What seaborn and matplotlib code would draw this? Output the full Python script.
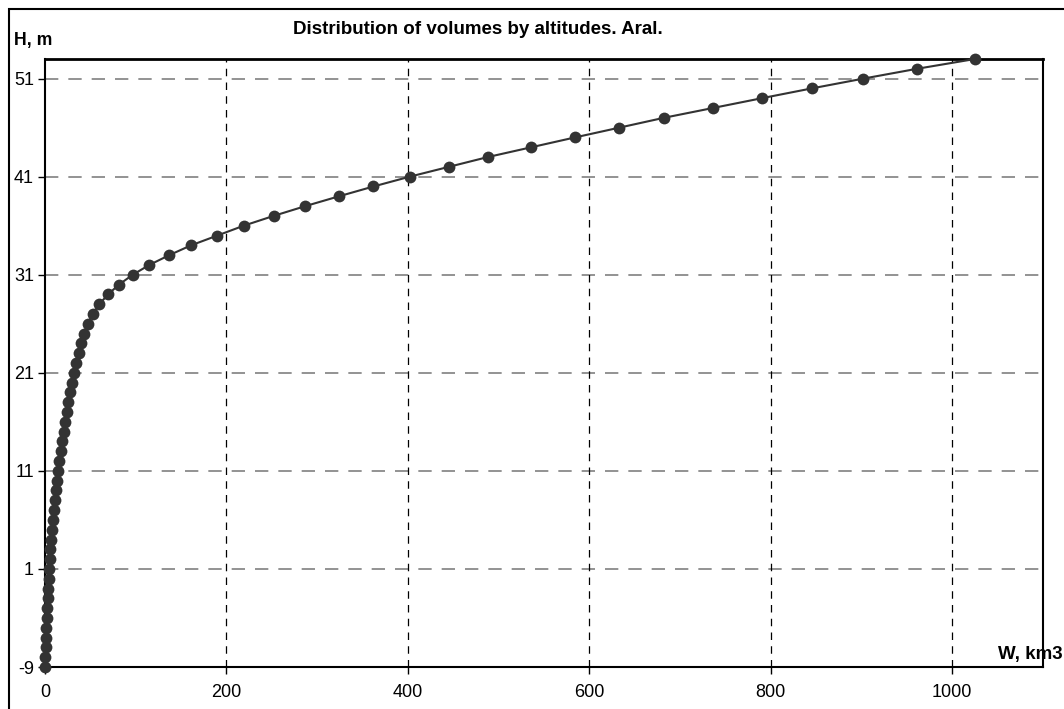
import matplotlib
matplotlib.use("Agg")
import matplotlib.pyplot as plt
import seaborn as sns
import pandas as pd
from matplotlib.patches import Rectangle

# altitudes, m
heights = list(range(-9, 54))
# volumes, km3
volumes = [0, 0.3, 0.6, 1.0, 1.4, 1.8, 2.2, 2.8, 3.3, 3.9,
           4.6, 5.3, 6.0, 6.8, 7.6, 8.5, 9.4, 10.5, 11.6, 12.8,
           14.2, 15.8, 17.5, 19.0, 20.6, 22.2, 23.8, 25.5, 27.4, 29.6,
           32.0, 34.4, 37.0, 39.8, 43.0, 47.0, 52.5, 59.9, 69.5, 81.6,
           96.7, 115, 137, 161, 190, 219, 252, 287, 324, 362,
           402, 445, 488, 536, 584, 633, 682, 736, 790, 845,
           902, 961, 1025]
x_ticks = [0, 200, 400, 600, 800, 1000]
y_ticks = [-9, 1, 11, 21, 31, 41, 51]

df = pd.DataFrame({"W": volumes, "H": heights})

sns.set_style("white")
plt.rcParams['font.family'] = ['Liberation Sans', 'DejaVu Sans']
plt.rcParams['axes.unicode_minus'] = False
plt.rcParams['text.color'] = 'black'

fig = plt.figure(figsize=(10.64, 7.09), dpi=100)
W, Hh = 1064, 709
ax = fig.add_axes([45 / W, 42 / Hh, (1043 - 45) / W, (667 - 59) / Hh])

sns.lineplot(data=df, x="W", y="H", ax=ax, color="#333333", linewidth=1.5,
             marker="o", markersize=8.5, markeredgewidth=0, sort=False,
             clip_on=False, zorder=5)

ax.set_xlim(0, 1100)
ax.set_ylim(-9, 53)
ax.set_xticks(x_ticks)
ax.set_yticks(y_ticks)
ax.set_xlabel("")
ax.set_ylabel("")
ax.tick_params(axis="both", labelsize=13, colors="black", length=5, width=1,
               direction="out", bottom=True, left=True)
ax.tick_params(axis="x", pad=7)
ax.tick_params(axis="y", pad=3)

# grid: grey dashed horizontal, black dashed vertical
for y in y_ticks[1:]:
    ax.axhline(y, color="#808080", linewidth=1.2, linestyle=(0, (8, 6)), zorder=1)
for x in x_ticks[1:]:
    ax.axvline(x, color="black", linewidth=0.9, linestyle=(0, (6, 5)), zorder=1)

for side in ["left", "bottom", "right"]:
    ax.spines[side].set_color("black")
    ax.spines[side].set_linewidth(1.5)
ax.spines["top"].set_color("black")
ax.spines["top"].set_linewidth(2)

fig.text(478 / W, 1 - 30 / Hh, "Distribution of volumes by altitudes. Aral.",
         ha="center", va="center", fontsize=13.5, fontweight="bold")
fig.text(14 / W, 1 - 40 / Hh, "H, m", ha="left", va="center",
         fontsize=12.7, fontweight="bold")
fig.text(1063 / W, 1 - 655 / Hh, "W, km3", ha="right", va="center",
         fontsize=13.5, fontweight="bold")

# outer frame
fig.patches.append(Rectangle((9 / W, -0.05), 1.2, 1 - 9 / Hh + 0.05,
                             transform=fig.transFigure, fill=False,
                             edgecolor="black", linewidth=1.5))

fig.savefig("out.png", dpi=100)
